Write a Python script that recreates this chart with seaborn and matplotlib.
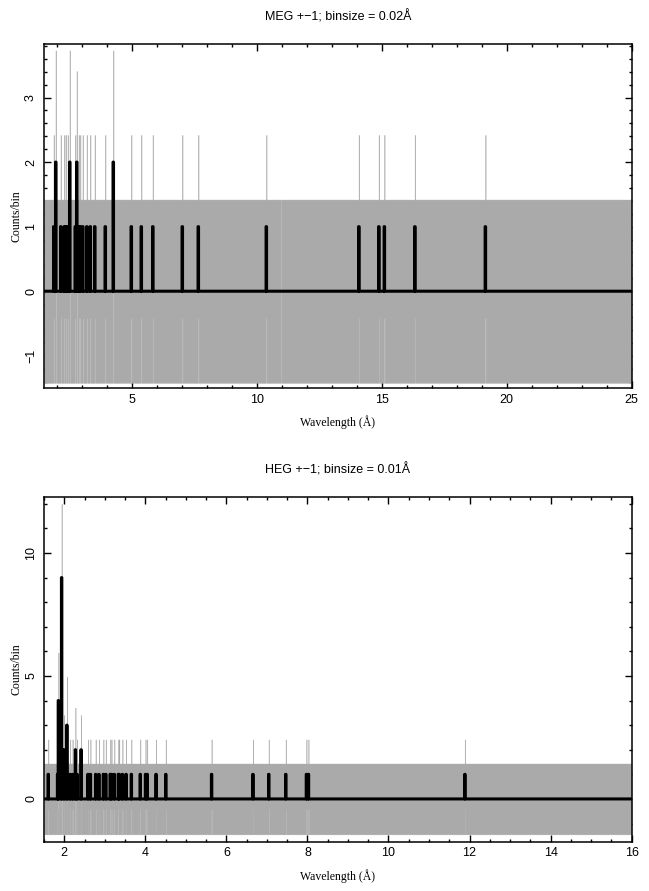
import matplotlib
matplotlib.use("Agg")
import matplotlib.pyplot as plt
from matplotlib.ticker import MultipleLocator
import seaborn as sns
import pandas as pd
import numpy as np

# MEG +-1, binsize 0.02 A: non-empty bins (wavelength, counts, error)
MEG_WAVE = [1.89, 1.97, 2.17, 2.32, 2.38, 2.45, 2.53, 2.74, 2.81, 2.88,
            2.95, 3.04, 3.21, 3.36, 3.52, 3.94, 4.26, 4.98, 5.38, 5.85,
            7.03, 7.67, 10.39, 14.08, 14.89, 15.11, 16.32, 19.14]
MEG_COUNTS = [1, 2, 1, 1, 1, 1, 2, 1, 2, 1,
              1, 1, 1, 1, 1, 1, 2, 1, 1, 1,
              1, 1, 1, 1, 1, 1, 1, 1]
MEG_ERR = [1.42, 1.73, 1.42, 1.42, 1.42, 1.42, 1.73, 1.42, 1.41, 1.42,
           1.42, 1.42, 1.42, 1.42, 1.42, 1.42, 1.73, 1.42, 1.42, 1.42,
           1.42, 1.42, 1.42, 1.42, 1.42, 1.42, 1.42, 1.42]
MEG_ZERO_ERR = 1.42
MEG_GAPS = [10.97]

# HEG +-1, binsize 0.01 A
HEG_WAVE = [1.60, 1.83, 1.85, 1.94, 1.99, 2.07, 2.14, 2.20, 2.28, 2.32,
            2.41, 2.59, 2.64, 2.78, 2.86, 2.96, 3.02, 3.13, 3.16, 3.23,
            3.33, 3.36, 3.43, 3.52, 3.65, 3.87, 4.00, 4.04, 4.26, 4.50,
            5.64, 6.65, 7.04, 7.46, 7.97, 8.02, 11.88]
HEG_COUNTS = [1, 1, 4, 9, 2, 3, 1, 1, 2, 1,
              2, 1, 1, 1, 1, 1, 1, 1, 1, 1,
              1, 1, 1, 1, 1, 1, 1, 1, 1, 1,
              1, 1, 1, 1, 1, 1, 1]
HEG_ERR = [1.42, 1.42, 1.95, 3.0, 1.41, 1.97, 1.42, 1.42, 1.71, 1.42,
           1.41, 1.42, 1.42, 1.42, 1.42, 1.42, 1.42, 1.42, 1.42, 1.42,
           1.42, 1.42, 1.42, 1.42, 1.42, 1.42, 1.42, 1.42, 1.42, 1.42,
           1.42, 1.42, 1.42, 1.42, 1.42, 1.42, 1.42]
HEG_ZERO_ERR = 1.44
HEG_GAPS = []

sns.set_style("ticks")
plt.rcParams['font.family'] = ['Liberation Sans', 'DejaVu Sans']
plt.rcParams['axes.linewidth'] = 1.1
for key in ['text.color', 'axes.labelcolor', 'axes.edgecolor',
            'xtick.color', 'ytick.color']:
    plt.rcParams[key] = 'black'

SERIF = ['Liberation Serif', 'DejaVu Serif']
BAND = '#aaaaaa'


def draw_panel(ax, lo, hi, binsize, waves, counts, errs, zero_err, gaps):
    n = int(round((hi - lo) / binsize))
    centers = lo + binsize * (np.arange(n) + 0.5)
    y = np.zeros(n)
    e = np.full(n, zero_err)
    idx = np.floor((np.array(waves) - lo) / binsize).astype(int)
    y[idx] = counts
    e[idx] = errs
    for g in gaps:
        e[int((g - lo) / binsize)] = 0.0
    # error bars of every bin, merging into the grey band
    ax.fill_between(centers, y - e, y + e, step='mid', facecolor=BAND,
                    edgecolor=BAND, linewidth=0.3)
    df = pd.DataFrame({'wave': centers, 'counts': y})
    sns.lineplot(data=df, x='wave', y='counts', ax=ax, color='black',
                 linewidth=2.2, drawstyle='steps-mid', estimator=None,
                 sort=False)


def style_axes(ax, title, xlim, ylim, xmaj, xmin, ymaj, ymin):
    ax.set_xlim(*xlim)
    ax.set_ylim(*ylim)
    ax.xaxis.set_major_locator(MultipleLocator(xmaj))
    ax.xaxis.set_minor_locator(MultipleLocator(xmin))
    ax.yaxis.set_major_locator(MultipleLocator(ymaj))
    ax.yaxis.set_minor_locator(MultipleLocator(ymin))
    ax.tick_params(which='both', direction='in', top=True, right=True,
                   width=1.0, labelsize=9, colors='black')
    ax.tick_params(which='major', length=5)
    ax.tick_params(which='minor', length=2.5)
    ax.tick_params(axis='x', pad=4)
    ax.tick_params(axis='y', pad=5)
    for lab in ax.get_yticklabels():
        lab.set_rotation(90)
        lab.set_va('center')
        lab.set_ha('right')
    for sp in ax.spines.values():
        sp.set_visible(True)
        sp.set_color('black')
    ax.set_title(title, fontsize=9, pad=17)
    ax.set_xlabel('Wavelength (Å)', family=SERIF, fontsize=8.5, labelpad=7)
    ax.set_ylabel('Counts/bin', family=SERIF, fontsize=8.5, labelpad=2)


fig = plt.figure(figsize=(6.49, 8.91), dpi=100)
ax1 = fig.add_axes([0.0678, 0.5645, 0.9055, 0.3861])
ax2 = fig.add_axes([0.0678, 0.0553, 0.9055, 0.3872])

draw_panel(ax1, 1.5, 25.0, 0.02, MEG_WAVE, MEG_COUNTS, MEG_ERR,
           MEG_ZERO_ERR, MEG_GAPS)
style_axes(ax1, 'MEG +\u22121; binsize = 0.02Å', (1.5, 25.0), (-1.5, 3.83),
           5, 1, 1, 0.2)

draw_panel(ax2, 1.5, 16.0, 0.01, HEG_WAVE, HEG_COUNTS, HEG_ERR,
           HEG_ZERO_ERR, HEG_GAPS)
style_axes(ax2, 'HEG +\u22121; binsize = 0.01Å', (1.5, 16.0), (-1.74, 12.29),
           2, 0.5, 5, 1)

fig.savefig('out.png', dpi=100)
